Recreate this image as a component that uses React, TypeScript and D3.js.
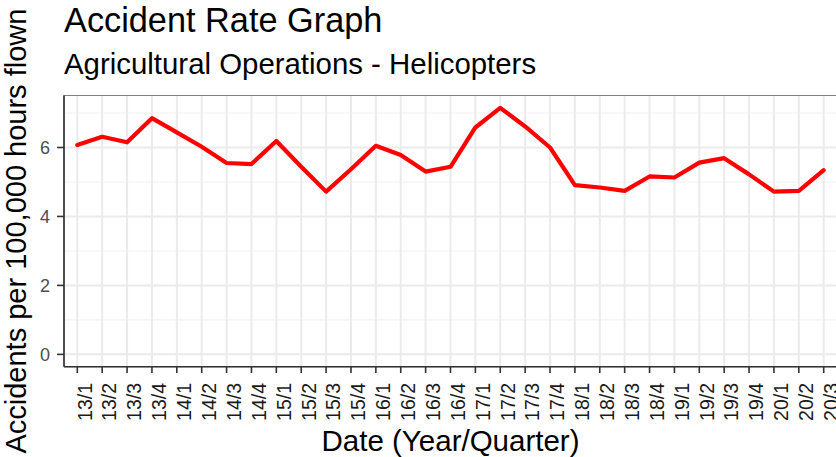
import React from "react";
import * as d3 from "d3";

const quarters = [
  "13/1", "13/2", "13/3", "13/4",
  "14/1", "14/2", "14/3", "14/4",
  "15/1", "15/2", "15/3", "15/4",
  "16/1", "16/2", "16/3", "16/4",
  "17/1", "17/2", "17/3", "17/4",
  "18/1", "18/2", "18/3", "18/4",
  "19/1", "19/2", "19/3", "19/4",
  "20/1", "20/2", "20/3",
];

const accidentRate = [
  6.07, 6.31, 6.15, 6.85,
  6.44, 6.02, 5.55, 5.52,
  6.19, 5.44, 4.72, 5.37,
  6.05, 5.78, 5.30, 5.44,
  6.58, 7.15, 6.61, 6.00,
  4.91, 4.84, 4.74, 5.16,
  5.13, 5.56, 5.69, 5.22,
  4.72, 4.74, 5.34,
];

const yMajorTicks = [0, 2, 4, 6];
const yMinorTicks = [1, 3, 5, 7];

const titleText = "Accident Rate Graph";
const subtitleText = "Agricultural Operations - Helicopters";
const xTitle = "Date (Year/Quarter)";
const yTitle = "Accidents per 100,000 hours flown";

const W = 836;
const H = 457;
const FONT = "'Liberation Sans', Arial, Helvetica, sans-serif";

export default function App() {
  const panelLeft = 64;
  const panelRight = 837;
  const panelTop = 95.5;
  const panelBottom = 366.7;

  const x = d3
    .scalePoint<string>()
    .domain(quarters)
    .range([77.3, 823.7]);

  const yMax = d3.max(accidentRate) as number;
  const pad = yMax * 0.05;
  const y = d3
    .scaleLinear()
    .domain([-pad, yMax + pad])
    .range([panelBottom, panelTop]);

  const line = d3
    .line<number>()
    .x((_, i) => x(quarters[i]) as number)
    .y((d) => y(d));

  const panelCenterX = (panelLeft + panelRight) / 2;
  const panelCenterY = (panelTop + panelBottom) / 2;

  return (
    <svg
      width={W}
      height={H}
      style={{ position: "absolute", left: 0, top: 0, background: "#fff" }}
      fontFamily={FONT}
    >
      <rect x={0} y={0} width={W} height={H} fill="#fff" />
      {yMinorTicks.map((t) => (
        <line
          key={"mn" + t}
          x1={panelLeft}
          x2={panelRight}
          y1={y(t)}
          y2={y(t)}
          stroke="#F2F2F2"
          strokeWidth={1.1}
        />
      ))}
      {yMajorTicks.map((t) => (
        <line
          key={"mj" + t}
          x1={panelLeft}
          x2={panelRight}
          y1={y(t)}
          y2={y(t)}
          stroke="#EBEBEB"
          strokeWidth={2}
        />
      ))}
      {quarters.map((q) => (
        <line
          key={"vg" + q}
          x1={x(q)}
          x2={x(q)}
          y1={panelTop}
          y2={panelBottom}
          stroke="#EBEBEB"
          strokeWidth={2}
        />
      ))}
      <path
        d={line(accidentRate) || ""}
        fill="none"
        stroke="#FF0000"
        strokeWidth={4.2}
        strokeLinejoin="round"
        strokeLinecap="round"
      />
      <rect
        x={panelLeft}
        y={panelTop}
        width={panelRight - panelLeft}
        height={panelBottom - panelTop}
        fill="none"
        stroke="#808080"
        strokeWidth={1}
      />
      <line x1={panelLeft} x2={panelLeft} y1={panelTop} y2={panelBottom} stroke="#333" strokeWidth={1.6} />
      <line x1={panelLeft} x2={panelRight} y1={panelBottom} y2={panelBottom} stroke="#333" strokeWidth={1.6} />
      {yMajorTicks.map((t) => (
        <g key={"yt" + t}>
          <line x1={57} x2={panelLeft} y1={y(t)} y2={y(t)} stroke="#333" strokeWidth={1.6} />
          <text
            x={50}
            y={y(t)}
            dy="0.36em"
            textAnchor="end"
            fontSize={18}
            fill="#4D4D4D"
          >
            {t}
          </text>
        </g>
      ))}
      {quarters.map((q) => (
        <g key={"xt" + q}>
          <line x1={x(q)} x2={x(q)} y1={panelBottom} y2={373} stroke="#333" strokeWidth={1.6} />
          <text
            transform={`translate(${(x(q) as number) + 14.3},383) rotate(-90)`}
            textAnchor="end"
            fontSize={19.5}
            fill="#1A1A1A"
          >
            {q}
          </text>
        </g>
      ))}
      <text x={panelCenterX} y={451} textAnchor="middle" fontSize={29.5} fill="#000">
        {xTitle}
      </text>
      <text
        transform={`translate(25.5,${panelCenterY}) rotate(-90)`}
        textAnchor="middle"
        fontSize={29}
        fill="#000"
      >
        {yTitle}
      </text>
      <text x={64} y={31.7} fontSize={34.3} fill="#000">
        {titleText}
      </text>
      <text x={64} y={74} fontSize={29.4} fill="#000">
        {subtitleText}
      </text>
    </svg>
  );
}
